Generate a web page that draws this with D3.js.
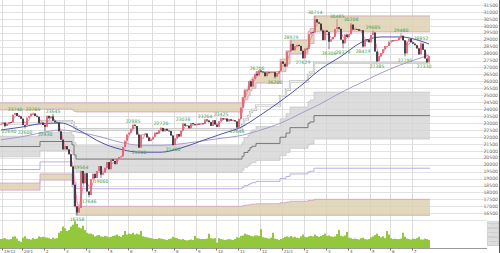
<!DOCTYPE html>
<html>
<head>
<meta charset="utf-8">
<script src="https://cdn.jsdelivr.net/npm/d3@7"></script>
<style>
  body { margin: 0; background: #fff; }
  svg { display: block; font-family: "DejaVu Sans", sans-serif; }
</style>
</head>
<body>
<svg id="chart" width="500" height="253"></svg>
<script>
// closes (2 sessions per candle), Dec 2019 -> Jul 2021
const closes = [
  22940, 23030, 22790, 22950, 23060, 23040, 23600, 23720, 23510, 23480, 23310,
  22860, 22850, 23390, 23500, 23680, 23690, 23510, 23450, 22990, 23030, 22860,
  22730, 23520, 23340, 23480, 23170, 23050, 23040, 22400, 21800, 21100,
  21340, 21100, 20750, 19870, 18560, 17000, 16550, 16890, 19550, 18660, 19390,
  18070, 17820, 18950, 19350, 19040, 19550, 19900, 19280, 19430, 19780, 20190,
  19670, 20390, 20270, 20040, 20430, 20550, 20590, 21270, 21730, 22180,
  22310, 22560, 22880, 22790, 22170, 21230, 22160, 22180, 22250, 21960, 21700, 21820,
  22010, 22310, 22230, 22480, 22650, 22400, 22580, 22450, 22420, 22100, 21410,
  21900, 22210, 22030, 22450, 22950, 22800, 22810, 22620, 23000, 22910, 22840,
  22950, 22910, 22970, 22940, 23260, 23180, 23060, 22790, 23210, 22890,
  22730, 23130, 23350, 23260, 23330, 23110, 23270, 23170, 23200, 23120, 22680,
  23300, 24110, 24840, 25350, 25390, 26010, 25630, 26170, 26540, 26430, 26790,
  26700, 26650, 26370, 26660, 26630, 26660, 26660, 26340, 26570, 26750, 27440,
  27260, 27060, 28140, 28160, 28700, 28240, 28520, 28630, 28550, 28200, 27660,
  28360, 28340, 29390, 29560, 29520, 30470, 30240, 30160, 29670, 28970, 29660,
  29560, 28860, 29030, 29210, 29770, 29910, 29790, 29000, 28730, 29380, 29180,
  29390, 30090, 29730, 29770, 29750, 29640, 29690, 28510, 29020, 28990, 28810,
  29330, 29520, 28150, 27450, 27820, 28040, 28320, 28550, 28550, 28860,
  28950, 28940, 28960, 28960, 29160, 29290, 28960, 28010, 28870, 29070, 28810,
  28710, 28600, 28370, 27940, 28720, 28280, 27650, 27390, 27830
];

// volume (million shares)
const volumes = [
  1000, 1050, 1100, 980, 950, 1000, 1250, 1300, 1050, 800, 700,
  1150, 1300, 1050, 1000, 950, 1100, 1000, 1050, 1300, 1200, 1250,
  1200, 1150, 1100, 1000, 1150, 1050, 1100, 1700, 1900, 2400,
  2200, 1900, 2000, 2400, 2600, 3000, 2700, 2300, 2200, 2500, 2000,
  1700, 1600, 1600, 1500, 1300, 1400, 1450, 1300, 1250, 1350, 1300,
  1200, 1250, 1350, 1400, 1500, 1350, 1250, 1450, 1900, 1500,
  1600, 1550, 1700, 1500, 1600, 1500, 1900, 1300, 1250, 1200, 1150, 1100,
  1050, 1000, 1000, 1100, 1050, 1000, 950, 900, 1000, 1050, 1250,
  1150, 1100, 1000, 950, 1000, 900, 850, 900, 950, 900, 1350,
  1100, 1050, 1000, 1000, 1000, 1050, 1600, 1100, 1050, 1100,
  600, 1100, 1000, 950, 900, 950, 1000, 950, 900, 1000, 1200,
  1150, 1350, 1400, 1600, 1500, 1450, 1350, 1300, 1400, 1400, 1350,
  2100, 1200, 1150, 1100, 1050, 1150, 1700, 1050, 1000, 900, 1000,
  1100, 1250, 1300, 1200, 1350, 1200, 1250, 1150, 1100, 1300, 1500,
  1250, 1200, 1300, 1350, 1300, 1500, 1350, 1250, 1350, 1450, 1600,
  1350, 1400, 1300, 1250, 1300, 1550, 2000, 1350, 1300, 1400, 1800,
  1150, 1100, 1000, 1050, 1000, 950, 1100, 1150, 1000, 950, 1000,
  1200, 1300, 1450, 1600, 1350, 1200, 1300, 1100, 1900, 1500,
  1100, 1000, 1050, 1000, 1000, 1050, 1700, 1250, 1050, 1000, 950,
  1050, 1000, 1100, 1250, 950, 950, 1050, 1000, 900
];

// labelled swing highs / lows: [candle, price, "h" | "l"]
const swings = [
  [2, 22690, "l"], [7, 23740, "h"], [12, 22600, "l"], [16, 23765, "h"],
  [22, 22430, "l"], [26, 23645, "h"], [38, 16358, "l"], [40, 19564, "h"],
  [44, 17646, "l"], [50, 19060, "l"], [66, 22885, "h"], [69, 21200, "l"],
  [80, 22720, "h"], [86, 21400, "l"], [91, 23038, "h"], [102, 23264, "h"],
  [110, 23425, "h"], [118, 22648, "l"], [128, 26706, "h"], [137, 26200, "l"],
  [145, 28979, "h"], [151, 27629, "l"], [157, 30714, "h"], [164, 28308, "l"],
  [168, 30485, "h"], [171, 28379, "l"], [175, 30208, "h"], [181, 28419, "l"],
  [186, 29685, "h"], [188, 27385, "l"], [200, 29480, "h"], [202, 27795, "l"],
  [210, 28852, "h"], [213, 27330, "l"]
];

// long-period moving averages, read every 10 candles
const maIndex = [0, 10, 20, 30, 40, 50, 60, 70, 80, 90, 100, 110, 120, 130, 140, 150, 160, 170, 180, 190, 200, 210, 214];
const ma75 = [22500, 22700, 22950, 23000, 22400, 21600, 21100, 20900, 20900, 21200, 21700, 22200, 22700, 23600, 24600, 25700, 26900, 27800, 28800, 29200, 29200, 28900, 28700];
const ma200 = [21800, 22000, 22300, 22500, 22300, 22000, 21600, 21400, 21400, 21500, 21700, 21900, 22100, 22500, 23000, 23700, 24400, 25200, 25900, 26600, 27200, 27700, 27900];

// period high / low used for the retracement zones: [from candle, price]
const highSteps = [[0, 24450], [121, 24860], [122, 25400], [124, 25700], [125, 26100], [126, 26300], [128, 26706],
  [140, 27600], [143, 28200], [145, 28979], [154, 29600], [155, 29800], [157, 30714]];
const lowSteps = [[0, 18170], [20, 18890], [36, 18400], [37, 16960], [38, 16358]];

const priceTicks = [31500, 31000, 30500, 30000, 29500, 29000, 28500, 28000, 27500, 27000, 26500, 26000,
  25500, 25000, 24500, 24000, 23500, 23000, 22500, 22000, 21500, 21000, 20500, 20000, 19500, 19000,
  18500, 18000, 17500, 17000, 16500];
const volumeTicks = [30000, 25000, 20000, 15000, 10000, 5000];
const monthStarts = [1, 11, 22, 32, 43, 54, 64, 76, 87, 98, 108, 119, 130, 141, 152, 163, 174, 185, 195, 206];
const monthLabels = ["19/12", "20/1", "2", "3", "4", "5", "6", "7", "8", "9", "10", "11", "12",
  "21/1", "2", "3", "4", "5", "6", "7"];

const svg = d3.select("#chart");
const n = closes.length;

const xScale = d3.scaleLinear().domain([0, n]).range([0, 430]);
const yScale = d3.scaleLinear().domain([31500, 16500]).range([5, 213.3]);
const vScale = d3.scaleLinear().domain([0, 2900]).range([248, 222]);

// grid
svg.append("g")
  .selectAll("line")
  .data(priceTicks.concat([16000]))
  .join("line")
  .attr("x1", 0).attr("x2", 487)
  .attr("y1", (d) => Math.round(yScale(d)) + 0.5)
  .attr("y2", (d) => Math.round(yScale(d)) + 0.5)
  .attr("stroke", "#e2e2e2");

svg.append("g")
  .selectAll("line")
  .data(monthStarts)
  .join("line")
  .attr("x1", (d) => Math.round(xScale(d)) + 0.5)
  .attr("x2", (d) => Math.round(xScale(d)) + 0.5)
  .attr("y1", 0).attr("y2", 248)
  .attr("stroke", "#dcdcdc");

// retracement zones
const stepValue = (steps, i) => {
  let v = steps[0][1];
  for (const [s, val] of steps) if (i >= s) v = val;
  return v;
};
const zone = d3.range(n + 1).map((i) => ({
  i,
  hi: stepValue(highSteps, Math.min(i, n - 1)),
  lo: stepValue(lowSteps, Math.min(i, n - 1)),
}));
const lvl = (d, f) => d.hi - (d.hi - d.lo) * f;

const bandArea = (f0, f1) =>
  d3.area()
    .curve(d3.curveStepAfter)
    .x((d) => xScale(d.i))
    .y0((d) => yScale(lvl(d, f0)))
    .y1((d) => yScale(lvl(d, f1)));
const levelLine = (f) =>
  d3.line()
    .curve(d3.curveStepAfter)
    .x((d) => xScale(d.i))
    .y((d) => yScale(lvl(d, f)));

const zones = svg.append("g");
zones.append("path").attr("d", bandArea(0, 0.08)(zone)).attr("fill", "#ddd2b0").attr("opacity", 0.85);
zones.append("path").attr("d", bandArea(0.92, 1)(zone)).attr("fill", "#ddd2b0").attr("opacity", 0.85);
zones.append("path").attr("d", bandArea(0.382, 0.618)(zone)).attr("fill", "#d4d4d4").attr("opacity", 0.8);

[0, 0.08, 0.92, 1].forEach((f) => {
  zones.append("path").attr("d", levelLine(f)(zone))
    .attr("fill", "none").attr("stroke", "#d59cc4").attr("stroke-width", 0.8);
});
[0.382, 0.618].forEach((f) => {
  zones.append("path").attr("d", levelLine(f)(zone))
    .attr("fill", "none").attr("stroke", "#bdbdbd").attr("stroke-width", 0.6);
});
zones.append("path").attr("d", levelLine(0.5)(zone))
  .attr("fill", "none").attr("stroke", "#6e6e6e").attr("stroke-width", 0.9);
zones.append("path").attr("d", levelLine(0.236)(zone))
  .attr("fill", "none").attr("stroke", "#b8b8b8").attr("stroke-width", 2.2);
zones.append("path").attr("d", levelLine(0.236)(zone))
  .attr("fill", "none").attr("stroke", "#fff").attr("stroke-width", 0.8);
zones.append("path").attr("d", levelLine(0.764)(zone))
  .attr("fill", "none").attr("stroke", "#b6a4e2").attr("stroke-width", 0.9);

// moving averages
const maLine = d3.line()
  .curve(d3.curveMonotoneX)
  .x((d) => xScale(d[0] + 0.5))
  .y((d) => yScale(d[1]));

svg.append("path")
  .attr("d", maLine(maIndex.map((i, k) => [i, ma200[k]])))
  .attr("fill", "none").attr("stroke", "#a79ccc").attr("stroke-width", 1);
svg.append("path")
  .attr("d", maLine(maIndex.map((i, k) => [i, ma75[k]])))
  .attr("fill", "none").attr("stroke", "#4f55a8").attr("stroke-width", 1);

const shortMa = closes.map((c, i) => [i, d3.mean(closes.slice(Math.max(0, i - 2), i + 1))]);
svg.append("path")
  .attr("d", d3.line().x((d) => xScale(d[0] + 0.5)).y((d) => yScale(d[1]))(shortMa))
  .attr("fill", "none").attr("stroke", "#f28aa8").attr("stroke-width", 1);

// candles
const swingMap = new Map(swings.map((s) => [s[0], s]));
const candles = closes.map((c, i) => {
  const o = i ? closes[i - 1] : c;
  let hi = Math.max(o, c), lo = Math.min(o, c);
  const s = swingMap.get(i);
  if (s && s[2] === "h") hi = Math.max(hi, s[1]);
  if (s && s[2] === "l") lo = Math.min(lo, s[1]);
  return { i, o, c, hi, lo };
});

const cg = svg.append("g");
cg.selectAll("line")
  .data(candles)
  .join("line")
  .attr("x1", (d) => xScale(d.i + 0.5))
  .attr("x2", (d) => xScale(d.i + 0.5))
  .attr("y1", (d) => yScale(d.hi))
  .attr("y2", (d) => yScale(d.lo))
  .attr("stroke", (d) => (d.c >= d.o ? "#d9485d" : "#2a2a35"))
  .attr("stroke-width", 0.6);
cg.selectAll("rect")
  .data(candles)
  .join("rect")
  .attr("x", (d) => xScale(d.i) + 0.2)
  .attr("width", 1.6)
  .attr("y", (d) => yScale(Math.max(d.o, d.c)))
  .attr("height", (d) => Math.max(0.8, Math.abs(yScale(d.o) - yScale(d.c))))
  .attr("fill", (d) => (d.c >= d.o ? "#e0606f" : "#2a2a35"));

// swing labels
svg.append("g")
  .selectAll("text")
  .data(swings)
  .join("text")
  .attr("x", (d) => Math.min(424, Math.max(9, xScale(d[0] + 0.5))))
  .attr("y", (d) => (d[2] === "h" ? yScale(d[1]) - 1.5 : yScale(d[1]) + 5.5))
  .attr("text-anchor", "middle")
  .attr("font-size", 4.6)
  .attr("fill", "#46a046")
  .text((d) => d[1]);

// volume
svg.append("g")
  .selectAll("rect")
  .data(volumes)
  .join("rect")
  .attr("x", (d, i) => xScale(i))
  .attr("width", xScale(1) - xScale(0))
  .attr("y", (d) => vScale(d))
  .attr("height", (d) => 248 - vScale(d))
  .attr("fill", "#94c83c");

// x axis
svg.append("line")
  .attr("x1", 0).attr("x2", 487).attr("y1", 248.5).attr("y2", 248.5)
  .attr("stroke", "#9a9a9a");
const xt = svg.append("g");
xt.selectAll("line")
  .data(monthStarts)
  .join("line")
  .attr("x1", (d) => Math.round(xScale(d)) + 0.5)
  .attr("x2", (d) => Math.round(xScale(d)) + 0.5)
  .attr("y1", 248).attr("y2", 250.5)
  .attr("stroke", "#777");
xt.selectAll("text")
  .data(monthStarts)
  .join("text")
  .attr("x", (d) => xScale(d) + 2)
  .attr("y", 252.8)
  .attr("font-size", 4)
  .attr("fill", "#555")
  .text((d, k) => monthLabels[k]);

// right price axis
svg.append("g")
  .selectAll("text")
  .data(priceTicks)
  .join("text")
  .attr("x", 498)
  .attr("y", (d) => yScale(d) + 1.7)
  .attr("text-anchor", "end")
  .attr("font-size", 4.6)
  .attr("fill", "#6a6a6a")
  .text((d) => d);

// volume axis box
svg.append("rect")
  .attr("x", 487).attr("y", 221).attr("width", 12).attr("height", 25)
  .attr("fill", "#cfcfcf");
svg.append("g")
  .selectAll("text")
  .data(volumeTicks)
  .join("text")
  .attr("x", 498)
  .attr("y", (d) => vScale(d / 10) + 1.5)
  .attr("text-anchor", "end")
  .attr("font-size", 4)
  .attr("fill", "#f4f4f4")
  .text((d) => d);

svg.append("line")
  .attr("x1", 499.5).attr("x2", 499.5).attr("y1", 0).attr("y2", 253)
  .attr("stroke", "#555");
</script>
</body>
</html>
